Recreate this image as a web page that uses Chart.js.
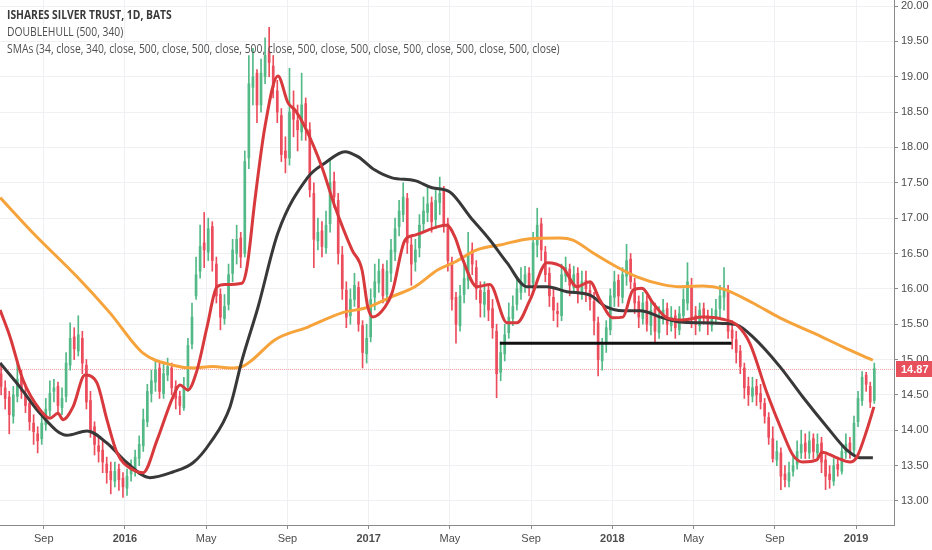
<!DOCTYPE html>
<html>
<head>
<meta charset="utf-8">
<title>ISHARES SILVER TRUST, 1D, BATS</title>
<script src="https://cdn.jsdelivr.net/npm/chart.js@4.4.1/dist/chart.umd.min.js"></script>
<style>
  html, body { margin: 0; padding: 0; background: #fff; }
  #wrap { width: 932px; height: 550px; position: relative; }
</style>
</head>
<body>
<div id="wrap"><canvas id="slv-chart"></canvas></div>
<script>
// SLV daily chart, redrawn with roughly weekly candles.
// x values are months counted from 1 Jul 2015.

const monthTicks = [2, 6, 10, 14, 18, 22, 26, 30, 34, 38, 42];
const monthLabels = ['Sep', '2016', 'May', 'Sep', '2017', 'May', 'Sep', '2018', 'May', 'Sep', '2019'];
const priceTicks = [13, 13.5, 14, 14.5, 15, 15.5, 16, 16.5, 17, 17.5, 18, 18.5, 19, 19.5, 20];

const legendLines = [
  'ISHARES SILVER TRUST, 1D, BATS',
  'DOUBLEHULL (500, 340)',
  'SMAs (34, close, 340, close, 500, close, 500, close, 500, close, 500, close, 500, close, 500, close, 500, close, 500, close)'
];

// first candle and spacing, in months
const barStart = -0.1;
const barStep = 0.2;

const opens = [
  14.80,14.60,14.47,14.20,14.48,14.75,14.52,14.38,14.10,13.95,
  13.88,14.08,14.28,14.55,14.62,14.32,14.48,14.92,15.32,15.12,
  15.30,14.92,14.42,14.05,13.78,13.72,13.52,13.42,13.28,13.45,
  13.32,13.18,13.38,13.42,13.60,13.78,14.12,14.52,14.68,14.88,
  14.52,14.78,14.88,14.62,14.48,14.32,14.62,15.22,15.90,16.25,
  16.65,16.52,16.88,16.35,15.92,15.58,15.78,16.22,16.50,16.72,
  16.50,17.85,18.85,19.05,18.60,19.00,19.35,19.15,18.80,18.45,
  17.95,17.85,18.55,18.38,18.22,18.62,18.25,17.35,16.68,16.82,
  16.58,16.92,17.52,17.25,16.48,15.98,15.62,15.85,16.02,15.48,
  15.08,15.32,15.88,16.08,16.28,15.92,16.22,16.52,16.88,17.05,
  17.28,16.62,16.38,16.58,16.92,17.08,17.22,16.98,17.22,17.38,
  16.92,16.38,15.88,15.48,15.92,16.12,16.55,16.30,15.98,15.78,
  15.98,15.72,15.40,14.82,15.08,15.38,15.58,15.78,15.95,16.08,
  16.22,16.08,16.62,16.92,16.52,16.22,15.88,15.68,15.62,16.18,
  16.28,16.02,16.22,15.92,16.12,15.98,15.82,15.52,14.98,15.22,
  15.42,15.88,16.12,15.88,16.18,16.42,16.08,15.82,15.58,15.82,
  15.48,15.72,15.38,15.62,15.72,15.48,15.62,15.42,15.62,15.80,
  16.05,15.62,15.48,15.72,15.62,15.48,15.58,15.72,15.88,15.98,
  15.42,15.28,15.12,14.88,14.62,14.48,14.62,14.52,14.38,14.18,
  13.88,13.58,13.68,13.38,13.28,13.42,13.52,13.68,13.82,13.68,
  13.88,13.68,13.82,13.58,13.38,13.28,13.52,13.42,13.68,13.82,
  13.72,14.12,14.42,14.78,14.62,14.42
];
const highs = [
  14.95,14.70,14.55,14.62,14.98,14.85,14.62,14.45,14.22,14.05,
  14.25,14.45,14.70,14.72,14.68,14.60,15.10,15.52,15.45,15.62,
  15.40,15.00,14.55,14.12,13.92,13.85,13.62,13.55,13.55,13.52,
  13.40,13.45,13.58,13.72,13.92,14.30,14.65,14.85,15.00,14.95,
  14.95,15.02,14.95,14.70,14.55,14.75,15.30,15.80,16.45,16.90,
  17.08,17.00,16.95,16.45,16.00,15.92,16.35,16.70,16.90,16.80,
  17.95,19.30,19.40,19.10,19.25,19.55,19.70,19.30,18.95,18.55,
  18.15,19.12,18.80,18.60,19.05,18.70,18.35,17.50,17.00,16.95,
  17.10,17.82,17.65,17.35,16.60,16.10,16.00,16.22,16.10,15.55,
  15.50,16.00,16.35,16.42,16.35,16.40,16.70,17.00,17.25,17.50,
  17.35,16.75,16.70,17.05,17.30,17.45,17.30,17.40,17.58,17.45,
  17.00,16.45,15.95,16.05,16.40,16.80,16.65,16.40,16.10,16.10,
  16.05,15.85,15.50,15.25,15.50,15.80,15.90,16.15,16.30,16.32,
  16.30,16.80,17.14,17.00,16.60,16.30,16.00,15.80,16.35,16.45,
  16.35,16.32,16.30,16.25,16.25,16.10,15.95,15.60,15.30,15.55,
  16.00,16.25,16.20,16.30,16.63,16.50,16.15,15.90,15.95,15.90,
  15.85,15.80,15.75,15.85,15.80,15.75,15.70,15.75,16.00,16.37,
  16.15,15.75,15.80,15.80,15.70,15.72,15.85,16.05,16.30,16.05,
  15.55,15.40,15.20,14.95,14.75,14.75,14.72,14.65,14.45,14.25,
  14.05,13.85,13.75,13.50,13.55,13.65,13.85,14.00,13.95,13.98,
  13.95,13.95,13.90,13.65,13.50,13.60,13.62,13.80,13.95,13.90,
  14.20,14.55,14.83,14.82,14.68,14.95
];
const lows = [
  14.50,14.30,13.95,14.10,14.40,14.45,14.25,14.00,13.80,13.68,
  13.80,14.00,14.20,14.40,14.25,14.22,14.40,14.85,15.00,15.05,
  14.80,14.30,13.90,13.65,13.55,13.40,13.25,13.10,13.20,13.15,
  13.05,13.08,13.28,13.35,13.50,13.70,14.05,14.40,14.55,14.45,
  14.45,14.70,14.50,14.30,14.22,14.28,14.55,15.15,15.85,16.15,
  16.30,16.40,16.25,15.80,15.42,15.50,15.70,16.10,16.35,16.30,
  16.45,17.70,18.60,18.35,18.50,18.90,19.00,18.70,18.35,17.80,
  17.64,17.75,18.15,17.95,18.10,18.10,17.30,16.30,16.55,16.45,
  16.50,16.80,17.15,16.35,15.85,15.45,15.50,15.75,15.40,14.88,
  14.95,15.25,15.70,15.95,15.80,15.82,16.10,16.40,16.75,16.95,
  16.50,16.05,16.25,16.45,16.80,16.95,16.80,16.85,17.05,16.80,
  16.25,15.70,15.23,15.40,15.80,16.00,16.20,15.85,15.60,15.60,
  15.55,15.30,14.46,14.70,14.98,15.30,15.48,15.70,15.85,15.95,
  15.90,16.00,16.45,16.40,16.10,15.75,15.55,15.46,15.55,16.10,
  15.90,15.95,15.80,15.85,15.82,15.70,15.35,14.77,14.85,15.10,
  15.35,15.75,15.75,15.80,16.05,16.00,15.65,15.45,15.50,15.40,
  15.35,15.25,15.30,15.50,15.35,15.40,15.30,15.35,15.55,15.70,
  15.45,15.35,15.40,15.50,15.35,15.40,15.50,15.60,15.70,15.30,
  15.15,14.95,14.80,14.45,14.35,14.40,14.35,14.30,14.10,13.80,
  13.55,13.50,13.16,13.20,13.20,13.35,13.45,13.60,13.60,13.60,
  13.60,13.60,13.40,13.16,13.18,13.22,13.35,13.38,13.60,13.60,
  13.65,14.05,14.35,14.55,14.32,14.38
];
const closes = [
  14.62,14.45,14.22,14.50,14.72,14.55,14.35,14.12,13.98,13.85,
  14.10,14.30,14.52,14.60,14.35,14.45,14.95,15.30,15.15,15.35,
  14.95,14.40,14.00,13.80,13.70,13.55,13.40,13.30,13.42,13.30,
  13.20,13.35,13.45,13.62,13.80,14.15,14.55,14.70,14.85,14.55,
  14.80,14.90,14.60,14.45,14.35,14.60,15.20,15.60,16.20,16.60,
  16.55,16.85,16.40,15.90,15.60,15.75,16.20,16.55,16.70,16.45,
  17.80,18.90,19.00,18.60,19.05,19.30,19.20,18.85,18.50,17.90,
  17.85,18.50,18.40,18.25,18.60,18.30,17.40,16.70,16.80,16.60,
  16.90,17.50,17.30,16.50,16.00,15.60,15.85,16.05,15.50,15.10,
  15.30,15.85,16.10,16.25,15.90,16.25,16.55,16.85,17.10,17.30,
  16.65,16.35,16.55,16.90,17.10,17.20,16.95,17.25,17.35,16.90,
  16.40,15.85,15.50,15.90,16.15,16.50,16.35,16.00,15.80,15.95,
  15.70,15.45,14.80,15.10,15.35,15.60,15.75,16.00,16.10,16.20,
  16.05,16.65,16.90,16.55,16.20,15.90,15.70,15.65,16.20,16.30,
  16.05,16.20,15.95,16.10,16.00,15.85,15.55,15.00,15.20,15.45,
  15.90,16.10,15.90,16.20,16.40,16.10,15.80,15.60,15.80,15.50,
  15.70,15.40,15.60,15.70,15.50,15.60,15.45,15.65,15.85,16.10,
  15.60,15.50,15.70,15.60,15.50,15.60,15.70,15.90,16.00,15.40,
  15.30,15.10,14.90,14.60,14.50,14.60,14.50,14.40,14.20,13.90,
  13.60,13.70,13.35,13.30,13.40,13.50,13.70,13.80,13.70,13.85,
  13.70,13.80,13.55,13.35,13.30,13.50,13.45,13.70,13.80,13.70,
  14.10,14.45,14.75,14.65,14.40,14.87
];

// moving averages: [month, price]
const sma34 = [
  [-0.15,15.70],[0.34,15.32],[0.98,14.71],[1.81,14.29],[2.31,14.17],[2.70,14.24],[2.95,14.15],
  [3.44,14.33],[4.03,14.78],[4.62,14.67],[5.11,14.15],[5.61,13.68],[6.39,13.44],[6.89,13.40],
  [7.58,13.86],[8.36,14.47],[8.71,14.64],[9.10,14.57],[9.55,14.85],[10.04,15.46],[10.53,16.03],
  [10.92,16.06],[11.76,16.08],[12.01,16.31],[12.40,17.26],[12.89,18.29],[13.53,19.01],[14.03,18.63],
  [14.37,18.53],[14.86,18.29],[15.70,17.72],[16.34,17.16],[17.18,16.55],[17.67,16.27],[17.96,15.74],
  [18.21,15.60],[18.80,15.74],[19.15,15.94],[19.79,16.69],[20.28,16.76],[21.41,16.88],[21.85,16.90],
  [22.25,16.73],[22.64,16.41],[23.33,16.03],[23.97,16.06],[24.81,15.52],[25.30,15.52],[25.94,15.84],
  [26.78,16.37],[27.57,16.30],[28.25,16.03],[28.90,16.10],[29.39,15.84],[30.03,15.59],[30.52,15.60],
  [31.01,15.98],[31.46,16.01],[32.00,15.80],[32.69,15.59],[33.47,15.56],[34.46,15.60],[35.44,15.57],
  [36.13,15.49],[36.77,15.23],[37.61,14.53],[38.40,13.96],[38.89,13.65],[39.38,13.55],[40.07,13.58],
  [40.32,13.69],[41.06,13.61],[41.70,13.55],[42.04,13.62],[42.53,14.00],[42.88,14.33]
];
const sma340 = [
  [-0.15,14.95],[0.83,14.61],[1.81,14.24],[3.14,13.93],[4.13,13.99],[5.11,13.82],[6.10,13.54],
  [7.23,13.33],[8.36,13.41],[9.35,13.54],[10.19,13.82],[11.17,14.33],[11.76,14.99],[12.55,15.74],
  [13.53,16.79],[15.01,17.58],[15.85,17.78],[16.83,17.94],[17.47,17.87],[18.31,17.68],[19.15,17.57],
  [20.28,17.53],[21.12,17.43],[22.00,17.37],[22.99,17.02],[23.97,16.69],[24.81,16.37],[25.79,16.03],
  [26.78,16.03],[27.76,15.96],[28.90,15.91],[29.73,15.74],[30.52,15.69],[31.36,15.69],[32.49,15.59],
  [33.33,15.53],[34.46,15.52],[35.44,15.51],[36.13,15.49],[36.92,15.32],[38.25,14.90],[39.38,14.47],
  [40.56,14.05],[41.55,13.72],[42.19,13.61],[42.83,13.61]
];
const sma500 = [
  [-0.15,17.29],[1.47,16.79],[3.64,16.17],[5.26,15.66],[6.89,15.09],[8.36,14.92],[9.35,14.88],
  [10.33,14.90],[11.17,14.88],[11.76,14.90],[12.25,14.99],[13.39,15.28],[15.01,15.46],[16.68,15.66],
  [17.96,15.74],[19.15,15.89],[20.28,16.03],[21.41,16.27],[22.25,16.38],[23.33,16.55],[24.46,16.62],
  [25.94,16.71],[27.42,16.72],[28.06,16.69],[29.04,16.51],[30.03,16.34],[31.21,16.17],[32.49,16.06],
  [33.33,16.03],[34.46,16.04],[35.44,16.00],[36.92,15.80],[38.25,15.59],[39.87,15.38],[41.35,15.18],
  [42.83,14.99]
];
// hand drawn horizontal line
const supportLine = [[24.46,15.23],[35.87,15.23]];

const lastPrice = closes[closes.length - 1];

const upColor = '#53b987';
const downColor = '#eb4d5c';
const candleColors = closes.map((c, i) => c >= opens[i] ? upColor : downColor);
const barX = closes.map((c, i) => barStart + i * barStep);

const toPoints = arr => arr.map(([x, y]) => ({x: x, y: y}));

Chart.defaults.font.family = '"Liberation Sans", Arial, sans-serif';

// last price line, price tag and the study titles
const overlay = {
  id: 'overlay',
  beforeDatasetsDraw(chart) {
    const {ctx, chartArea} = chart;
    const y = Math.round(chart.scales.y.getPixelForValue(lastPrice)) + 0.5;
    ctx.save();
    ctx.strokeStyle = 'rgba(239, 83, 80, 0.55)';
    ctx.lineWidth = 1;
    ctx.setLineDash([1, 1]);
    ctx.beginPath();
    ctx.moveTo(chartArea.left, y);
    ctx.lineTo(chartArea.right, y);
    ctx.stroke();
    ctx.restore();
  },
  afterDraw(chart) {
    const {ctx, chartArea} = chart;
    const y = Math.round(chart.scales.y.getPixelForValue(lastPrice));
    ctx.save();
    ctx.fillStyle = '#e8505c';
    ctx.fillRect(chartArea.right + 2, y - 8, chart.width - chartArea.right - 2, 16);
    ctx.fillStyle = '#fff';
    ctx.font = 'bold 11px "Liberation Sans", Arial, sans-serif';
    ctx.textBaseline = 'middle';
    ctx.fillText(lastPrice.toFixed(2), chartArea.right + 7, y + 1);
    ctx.restore();

    // study titles, a bit condensed like the original UI font
    ctx.save();
    ctx.translate(7, 0);
    ctx.scale(0.86, 1);
    ctx.textBaseline = 'middle';
    ctx.fillStyle = '#3a3a3a';
    ctx.font = 'bold 12px "Open Sans", sans-serif';
    ctx.fillText(legendLines[0], 0, 16);
    ctx.fillStyle = '#505050';
    ctx.font = '12px "Open Sans", sans-serif';
    ctx.fillText(legendLines[1], 0, 33);
    ctx.fillText(legendLines[2], 0, 50);
    ctx.restore();
  }
};

new Chart(document.getElementById('slv-chart'), {
  type: 'line',
  data: {
    datasets: [
      {
        label: 'SMA 34',
        data: toPoints(sma34),
        borderColor: '#d8393c',
        borderWidth: 3,
        pointRadius: 0,
        cubicInterpolationMode: 'monotone',
        order: 0
      },
      {
        label: 'SMA 340',
        data: toPoints(sma340),
        borderColor: '#383838',
        borderWidth: 3,
        pointRadius: 0,
        cubicInterpolationMode: 'monotone',
        order: 0
      },
      {
        label: 'SMA 500',
        data: toPoints(sma500),
        borderColor: '#f6a33c',
        borderWidth: 3,
        pointRadius: 0,
        cubicInterpolationMode: 'monotone',
        order: 1
      },
      {
        label: 'Line',
        data: toPoints(supportLine),
        borderColor: '#111111',
        borderWidth: 3,
        pointRadius: 0,
        order: 0
      },
      {
        type: 'bar',
        label: 'Wicks',
        data: barX.map((x, i) => ({x: x, y: [lows[i], highs[i]]})),
        backgroundColor: candleColors,
        barThickness: 1,
        grouped: false,
        order: 3
      },
      {
        type: 'bar',
        label: 'Bodies',
        data: barX.map((x, i) => ({x: x, y: [opens[i], closes[i]]})),
        backgroundColor: candleColors,
        barThickness: 2,
        minBarLength: 1,
        grouped: false,
        order: 2
      }
    ]
  },
  options: {
    responsive: true,
    maintainAspectRatio: false,
    animation: false,
    layout: { padding: 0 },
    plugins: {
      legend: { display: false },
      tooltip: { enabled: false }
    },
    scales: {
      x: {
        type: 'linear',
        min: -0.155,
        max: 43.87,
        offset: false,
        afterBuildTicks: s => { s.ticks = monthTicks.map(v => ({value: v})); },
        afterFit: s => { s.height = 25; s.paddingLeft = 0; s.paddingRight = 0; },
        grid: { color: '#eef0f3', tickColor: '#8a8a8a', tickLength: 4, offset: false },
        border: { color: '#8a8a8a' },
        ticks: {
          autoSkip: false,
          maxRotation: 0,
          padding: 3,
          color: '#4d4d4d',
          font: c => ({ size: 11, weight: (monthLabels[c.index] || '').length === 4 ? 'bold' : 'normal' }),
          callback: v => monthLabels[monthTicks.indexOf(v)]
        }
      },
      y: {
        position: 'right',
        min: 12.66,
        max: 20.085,
        afterBuildTicks: s => { s.ticks = priceTicks.map(v => ({value: v})); },
        afterFit: s => { s.width = 38; s.paddingTop = 0; s.paddingBottom = 0; },
        grid: { color: '#eef0f3', tickColor: '#8a8a8a', tickLength: 4 },
        border: { color: '#8a8a8a' },
        ticks: {
          padding: 3,
          color: '#4d4d4d',
          font: { size: 11 },
          callback: v => v.toFixed(2)
        }
      }
    }
  },
  plugins: [overlay]
});
</script>
</body>
</html>
